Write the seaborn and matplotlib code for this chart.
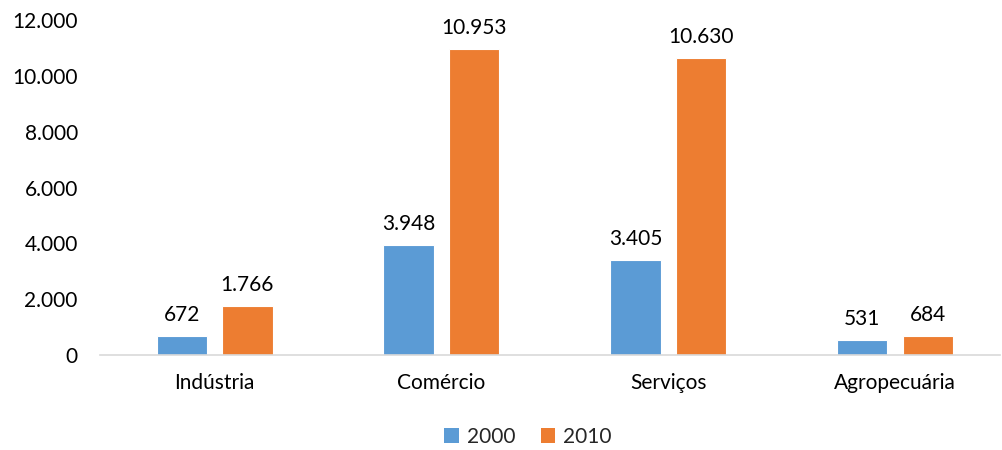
import matplotlib
matplotlib.use("Agg")
import matplotlib.pyplot as plt
import seaborn as sns
import pandas as pd
from matplotlib.ticker import FuncFormatter
from matplotlib.patches import Patch

# Data: employment by sector, 2000 vs 2010
categories = ["Indústria", "Comércio", "Serviços", "Agropecuária"]
years = ["2000", "2010"]
values_2000 = [672, 3948, 3405, 531]
values_2010 = [1766, 10953, 10630, 684]
colors = ["#5B9BD5", "#ED7D31"]

df = pd.DataFrame({
    "setor": categories * 2,
    "ano": [years[0]] * len(categories) + [years[1]] * len(categories),
    "valor": values_2000 + values_2010,
})

sns.set_theme(style="white")
plt.rcParams["font.family"] = ["Lato", "DejaVu Sans"]

def fmt_br(v):
    return f"{int(round(v)):,}".replace(",", ".")

fig = plt.figure(figsize=(10.02, 4.5), dpi=100)
ax = fig.add_axes([100 / 1002, 95 / 450, 900 / 1002, 335 / 450])

sns.barplot(data=df, x="setor", y="valor", hue="ano", order=categories,
            hue_order=years, palette=colors, width=0.578, gap=0.23,
            edgecolor="white", linewidth=0.8, saturation=1, ax=ax, legend=False)

for container in ax.containers:
    ax.bar_label(container, labels=[fmt_br(b.get_height()) for b in container],
                 padding=8, fontsize=15, color="#000000")

ax.set_xlim(-0.505, 3.463)
ax.set_ylim(0, 12000)
ax.set_yticks(range(0, 12001, 2000))
ax.yaxis.set_major_formatter(FuncFormatter(lambda v, p: fmt_br(v)))
ax.set_xlabel("")
ax.set_ylabel("")
ax.tick_params(axis="y", length=0, pad=16, labelsize=15, labelcolor="#000000")
ax.tick_params(axis="x", length=0, pad=13, labelsize=15, labelcolor="#000000")

for side in ["top", "left", "right"]:
    ax.spines[side].set_visible(False)
ax.spines["bottom"].set_color("#D9D9D9")
ax.spines["bottom"].set_linewidth(1.2)

handles = [Patch(facecolor=c, edgecolor="none", label=y) for c, y in zip(colors, years)]
fig.legend(handles=handles, loc="center", bbox_to_anchor=(0.527, 1 - 437 / 450),
           ncol=2, frameon=False, fontsize=15, handlelength=0.7, handleheight=0.7,
           handletextpad=0.4, columnspacing=1.2)

fig.savefig("out.png", dpi=100)
